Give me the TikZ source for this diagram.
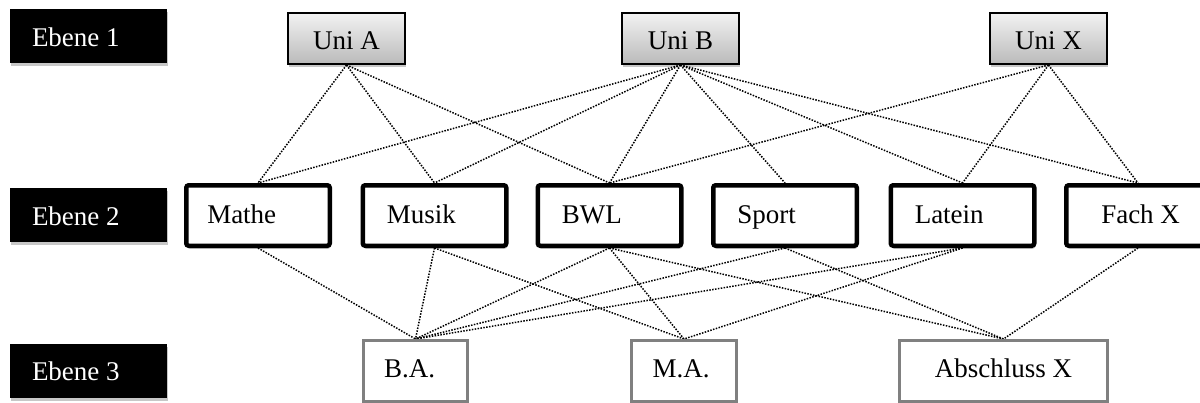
\documentclass[tikz,border=0pt]{standalone}
\usepackage{fontspec}
\setmainfont{Liberation Serif}
\usetikzlibrary{shadows,backgrounds}
\begin{document}
\begin{tikzpicture}[x=1pt,y=-1pt,
  every node/.style={font=\fontsize{27}{32}\selectfont, text depth=6pt},
  shd/.style={drop shadow={shadow xshift=1pt, shadow yshift=-3pt, opacity=0.22, fill=black}},
  lbl/.style={shd, fill=black, text=white, inner sep=0pt, minimum width=157pt, minimum height=54pt, text height=26pt},
  uni/.style={shd, draw=black, line width=2pt, top color=black!5, bottom color=black!27, inner sep=0pt, minimum width=117pt, minimum height=51pt, text height=27pt},
  fach/.style={shd, draw=black, line width=4.5pt, fill=white, rounded corners=2.5pt, inner sep=0pt, minimum width=143.5pt, minimum height=60.5pt, text height=21pt},
  abs/.style={shd, draw=black!50, line width=3pt, fill=white, inner sep=0pt, minimum height=61pt, text height=18pt},
  link/.style={line width=1.5pt, dash pattern=on 1.5pt off 1.4pt}]
\clip (0,0) rectangle (1200,402);
\useasboundingbox (0,0) rectangle (1200,402);

% level labels
\node[lbl] (e1) at (88.5,36) {\makebox[157pt][l]{\hspace*{22pt}Ebene 1}};
\node[lbl] (e2) at (88.5,215) {\makebox[157pt][l]{\hspace*{22pt}Ebene 2}};
\node[lbl] (e3) at (88.5,370.5) {\makebox[157pt][l]{\hspace*{22pt}Ebene 3}};

% level 1
\node[uni] (ua) at (346.5,38.5) {Uni A};
\node[uni] (ub) at (680.5,38.5) {Uni B};
\node[uni] (ux) at (1048.5,38.5) {Uni X};

% level 2
\node[fach] (mathe)  at (258,215.5)   {\makebox[143.5pt][l]{\hspace*{21pt}Mathe}};
\node[fach] (musik)  at (434.5,215.5) {\makebox[143.5pt][l]{\hspace*{24pt}Musik}};
\node[fach] (bwl)    at (609.5,215.5) {\makebox[143.5pt][l]{\hspace*{24pt}BWL}};
\node[fach] (sport)  at (785,215.5)   {\makebox[143.5pt][l]{\hspace*{24pt}Sport}};
\node[fach] (latein) at (962.5,215.5) {\makebox[143.5pt][l]{\hspace*{24pt}Latein}};
\node[fach] (fachx)  at (1138,215.5)  {\makebox[143.5pt][l]{\hspace*{35pt}Fach X}};

% level 3
\node[abs, minimum width=104pt] (ba) at (415.5,371) {\makebox[104pt]{\hspace*{-12pt}B.A.}};
\node[abs, minimum width=105pt] (ma) at (684,371) {\makebox[105pt]{\hspace*{-6pt}M.A.}};
\node[abs, minimum width=208pt] (ax) at (1003.5,371) {Abschluss X};

\begin{scope}[on background layer]
\foreach \a/\b in {ua/mathe, ua/musik, ua/bwl,
                   ub/mathe, ub/musik, ub/bwl, ub/sport, ub/latein, ub/fachx,
                   ux/bwl, ux/latein, ux/fachx}
  \draw[link] (\a.south) -- (\b.north);
\foreach \a/\b in {mathe/ba, musik/ba, musik/ma, bwl/ba, bwl/ma, bwl/ax,
                   sport/ba, sport/ax, latein/ba, latein/ma, fachx/ax}
  \draw[link] (\a.south) -- (\b.north);
\end{scope}
\end{tikzpicture}
\end{document}
